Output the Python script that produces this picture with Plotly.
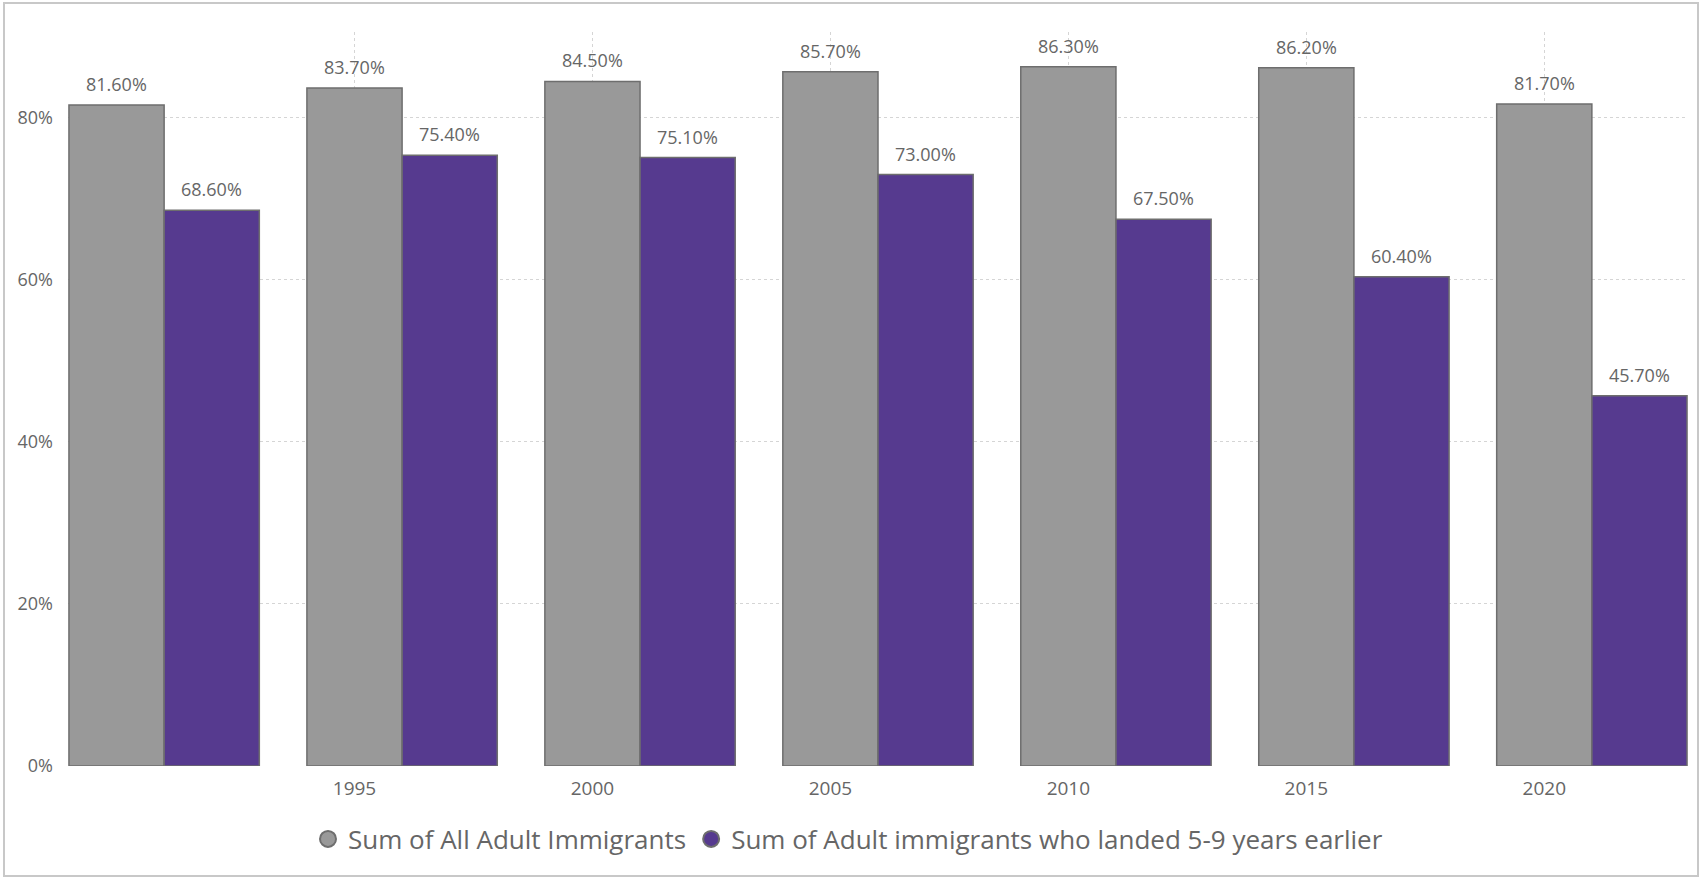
import plotly.graph_objects as go

years = [1990, 1995, 2000, 2005, 2010, 2015, 2020]
all_adult = [81.6, 83.7, 84.5, 85.7, 86.3, 86.2, 81.7]
landed_5_9 = [68.6, 75.4, 75.1, 73.0, 67.5, 60.4, 45.7]
x_tick_vals = [1995, 2000, 2005, 2010, 2015, 2020]
x_tick_text = ["1995", "2000", "2005", "2010", "2015", "2020"]
y_tick_vals = [0, 20, 40, 60, 80]
y_tick_text = ["0%", "20%", "40%", "60%", "80%"]
series_names = ["Sum of All Adult Immigrants",
                "Sum of Adult immigrants who landed 5-9 years earlier"]

GRAY = "#999999"
PURPLE = "#563A8F"
EDGE = "#6E6E6E"
TXT = "#666666"
FONT = "Open Sans"

W, H = 1703, 879
L, R, T, B = 68, 15, 32, 113
pw = W - L - R
ph = H - T - B
BAR_W = 2

fig = go.Figure()
for vals, col, off in [(all_adult, GRAY, -1), (landed_5_9, PURPLE, 1)]:
    fig.add_trace(go.Bar(
        x=years, y=vals, width=BAR_W, offset=off,
        marker=dict(color=col, line=dict(color=EDGE, width=1.5)),
        showlegend=False, hoverinfo="x+y",
    ))
    for yr, v in zip(years, vals):
        fig.add_annotation(
            x=yr + off + BAR_W / 2, y=v, text=f"{v:.2f}%",
            showarrow=False, yanchor="bottom", xanchor="center", yshift=7,
            font=dict(family=FONT, size=18, color=TXT),
        )

for name, col in zip(series_names, [GRAY, PURPLE]):
    fig.add_trace(go.Scatter(
        x=[None], y=[None], mode="markers", name=name,
        marker=dict(symbol="circle", size=18, color=col,
                    line=dict(color=EDGE, width=2)),
    ))

def px_to_paper_x(px):
    return (px - L) / pw

def px_to_paper_y(py):
    return 1 - (py - T) / ph

fig.add_shape(type="rect", xref="paper", yref="paper",
              x0=px_to_paper_x(4), x1=px_to_paper_x(1698),
              y0=px_to_paper_y(876), y1=px_to_paper_y(3),
              line=dict(color="#C8C8C8", width=2), layer="below")

fig.update_layout(
    width=W, height=H,
    margin=dict(l=L, r=R, t=T, b=B),
    barmode="overlay",
    plot_bgcolor="white", paper_bgcolor="white",
    font=dict(family=FONT, color=TXT),
    xaxis=dict(range=[1988.98, 2023.02], tickvals=x_tick_vals, ticktext=x_tick_text,
               showgrid=True, gridcolor="#D5D5D5", griddash="dot", gridwidth=1,
               zeroline=False, showline=False, ticks="",
               tickfont=dict(family=FONT, size=19, color=TXT), ticklabelstandoff=9),
    yaxis=dict(range=[0, 90.6], tickvals=y_tick_vals, ticktext=y_tick_text,
               showgrid=True, gridcolor="#D5D5D5", griddash="dot", gridwidth=1,
               zeroline=False, showline=False, ticks="",
               tickfont=dict(family=FONT, size=18, color=TXT), ticklabelstandoff=14),
    legend=dict(orientation="h", x=px_to_paper_x(848), xanchor="center",
                y=px_to_paper_y(839), yanchor="middle",
                font=dict(family=FONT, size=26, color=TXT),
                itemwidth=30, tracegroupgap=0, bgcolor="rgba(0,0,0,0)"),
)

fig.write_html("out.html", config={"displayModeBar": False},
               post_script="document.body.style.margin='0';document.body.style.overflow='hidden';")
